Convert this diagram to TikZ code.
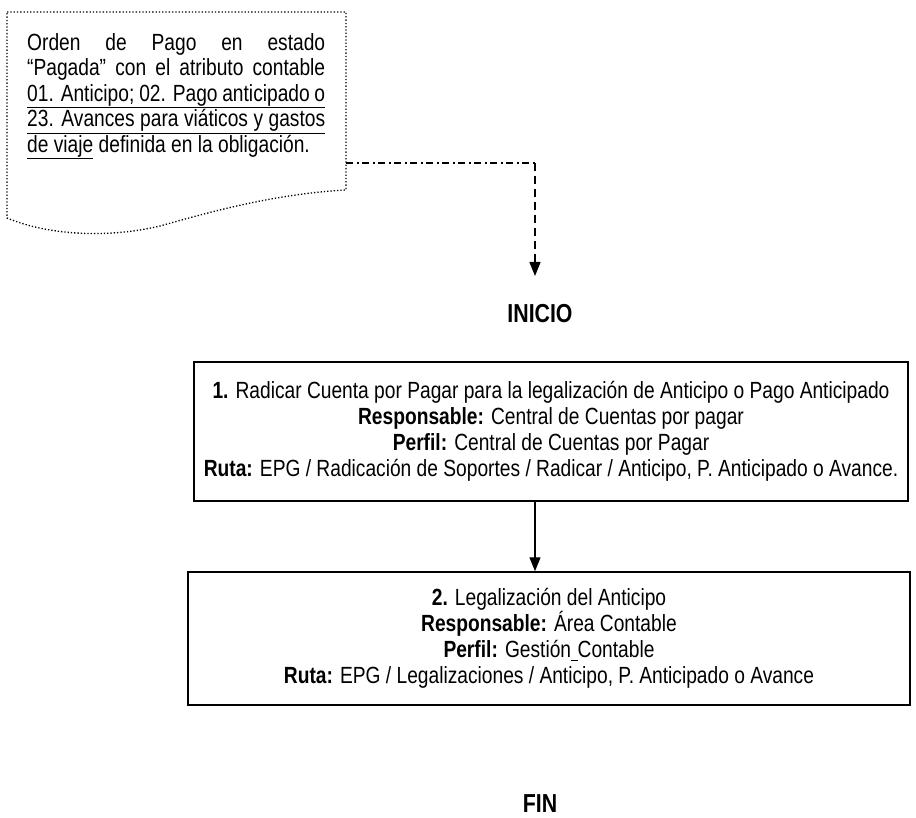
\documentclass[tikz,border=0pt]{standalone}
\usepackage{fontspec}
\setmainfont{Liberation Sans}[FakeStretch=0.82]
\usetikzlibrary{arrows.meta}
\newcommand{\jline}[1]{\makebox[298pt][s]{#1}}
\begin{document}
\begin{tikzpicture}[x=1pt,y=-1pt,
  every node/.style={font=\fontsize{23.4}{26}\selectfont, inner sep=0pt},
  procbox/.style={draw, line width=1.5pt, align=center},
  termtext/.style={font=\fontsize{26}{28}\selectfont\bfseries},
  tri/.style={-{Triangle[width=11pt,length=14pt]}},
  conn/.style={line width=1.4pt},
]
\useasboundingbox (0,0) rectangle (916,818);
% document shape
\draw[dotted, line width=1.3pt] (7,12) -- (346,12) -- (346,190)
  .. controls (270,194) and (200,215) .. (160,226)
  .. controls (110,238) and (50,236) .. (7,218) -- cycle;
\node[anchor=north west, align=left, font=\fontsize{23.4}{25.5}\selectfont] (doc) at (27,33)
  {\jline{Orden de Pago en estado}\\
  \jline{“Pagada” con el atributo contable}\\
  \underline{\jline{01. Anticipo; 02. Pago anticipado o}}\\
  \underline{\jline{23. Avances para viáticos y gastos}}\\
  \underline{de viaje} definida en la obligación.};
\coordinate (docr) at (346,163);
\coordinate (bend) at (535,163);
\coordinate (tip) at (535,276);
\node[termtext] (inicio) at (540,314) {INICIO};
\node[procbox, minimum width=714pt, minimum height=139pt] (b1) at (551,431.5)
  {\textbf{1.} Radicar Cuenta por Pagar para la legalización de Anticipo o Pago Anticipado\\
   \textbf{Responsable:} Central de Cuentas por pagar\\
   \textbf{Perfil:} Central de Cuentas por Pagar\\
   \textbf{Ruta:} EPG / Radicación de Soportes / Radicar / Anticipo, P. Anticipado o Avance.};
\node[procbox, minimum width=722pt, minimum height=133pt] (b2) at (549,638.5)
  {\textbf{2.} Legalización del Anticipo\\
   \textbf{Responsable:} Área Contable\\
   \textbf{Perfil:} Gestión\rule[-3.5pt]{0.28em}{0.9pt}Contable\\
   \textbf{Ruta:} EPG / Legalizaciones / Anticipo, P. Anticipado o Avance};
\node[termtext] (fin) at (540,804) {FIN};
% connectors
\draw[conn, dash pattern=on 7pt off 3.5pt on 2pt off 3.5pt] (docr) -- (bend);
\draw[conn, dash pattern=on 8pt off 5pt, tri] (bend) -- (tip);
\draw[conn, tri] (b1.south -| tip) -- (b2.north -| tip);
\end{tikzpicture}
\end{document}
